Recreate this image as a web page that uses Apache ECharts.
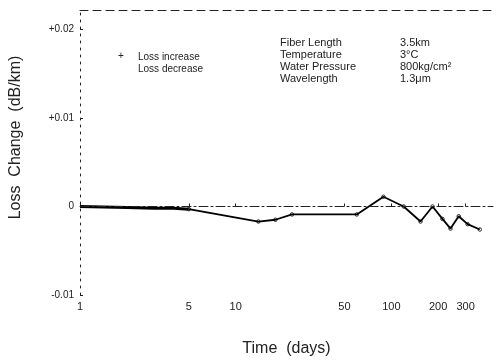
<!DOCTYPE html>
<html>
<head>
<meta charset="utf-8">
<script src="https://cdn.jsdelivr.net/npm/echarts@6/dist/echarts.min.js"></script>
<style>
  html, body { margin: 0; padding: 0; background: #fff; }
  #chart { width: 498px; height: 362px; }
</style>
</head>
<body>
<div id="chart"></div>
<script>
// early readings (drawn heavy in the original)
const earlyDays = [1, 2, 3, 4, 5]
const earlyLoss = [0, -0.0001, -0.0002, -0.0002, -0.0003]

// later readings
const laterDays = [5, 14, 18, 23, 60, 89, 120, 154, 184, 213, 240, 271, 309, 370]
const laterLoss = [-0.0003, -0.0017, -0.0015, -0.0009, -0.0009, 0.0011, 0, -0.0017, 0, -0.0014, -0.0025, -0.0011, -0.002, -0.0026]

const xTicks = [1, 5, 10, 50, 100, 200, 300]
const yTicks = [-0.01, 0, 0.01, 0.02]

const legendLines = ['Loss increase', 'Loss decrease']
const infoLabels = ['Fiber Length', 'Temperature', 'Water Pressure', 'Wavelength']
const infoValues = ['3.5km', '3\u00b0C', '800kg/cm\u00b2', '1.3\u03bcm']

const ink = '#222'
const font = '"Liberation Sans", Arial, sans-serif'

function pairs(xs, ys) {
    return xs.map(function (x, i) { return [x, ys[i]] })
}

function yLabel(v) {
    let hit = yTicks.find(function (t) { return Math.abs(t - v) < 1e-9 })
    if (hit === undefined) return ''
    if (hit === 0) return '0'
    return (hit > 0 ? '+' : '-') + Math.abs(hit).toFixed(2)
}

let chart = echarts.init(document.getElementById('chart'))

let textEls = []
// legend-like note
textEls.push({ type: 'text', left: 118, top: 51, style: { text: '+', fill: ink, font: '10px ' + font } })
legendLines.forEach(function (t, i) {
    textEls.push({ type: 'text', left: 138, top: 52 + i * 12, style: { text: t, fill: ink, font: '10px ' + font } })
})
infoLabels.forEach(function (t, i) {
    textEls.push({ type: 'text', left: 280, top: 37 + i * 12, style: { text: t, fill: ink, font: '11px ' + font } })
    textEls.push({ type: 'text', left: 400, top: 37 + i * 12, style: { text: infoValues[i], fill: ink, font: '11px ' + font } })
})

let option = {
    backgroundColor: '#fff',
    animation: false,
    grid: { left: 80, right: 5, top: 10, bottom: 66 },
    xAxis: [{
        type: 'log',
        logBase: 10,
        min: 1,
        max: 450,
        name: 'Time  (days)',
        nameLocation: 'middle',
        nameGap: 46,
        nameTextStyle: { color: ink, fontSize: 16, fontFamily: font },
        axisLine: { lineStyle: { color: ink, width: 1, type: [9, 3, 2, 3] } },
        axisTick: { inside: true, length: 3, lineStyle: { color: ink }, customValues: xTicks },
        axisLabel: { color: ink, fontSize: 11, fontFamily: font, margin: 6, customValues: xTicks },
        splitLine: { show: false },
        minorTick: { show: false }
    }, {
        type: 'log',
        logBase: 10,
        position: 'top',
        min: 1,
        max: 450,
        axisLine: { lineStyle: { color: ink, width: 1, type: [8, 5] } },
        axisTick: { show: false },
        axisLabel: { show: false },
        splitLine: { show: false }
    }],
    yAxis: {
        type: 'value',
        min: -0.01,
        max: 0.0222,
        interval: 0.01,
        name: 'Loss  Change  (dB/km)',
        nameLocation: 'middle',
        nameGap: 56,
        nameTextStyle: { color: ink, fontSize: 16, fontFamily: font, padding: [0, 0, 0, 30] },
        axisLine: { show: true, lineStyle: { color: ink, width: 1, type: [2, 5] } },
        axisTick: { show: true, inside: true, length: 3, lineStyle: { color: ink } },
        axisLabel: { color: ink, fontSize: 10, fontFamily: font, margin: 6, showMaxLabel: false, formatter: yLabel },
        splitLine: { show: false }
    },
    graphic: textEls,
    series: [{
        type: 'line',
        data: pairs(earlyDays, earlyLoss),
        symbol: 'none',
        clip: false,
        lineStyle: { color: '#000', width: 3 }
    }, {
        type: 'line',
        data: pairs(laterDays, laterLoss),
        symbol: 'none',
        clip: false,
        lineStyle: { color: '#000', width: 1.8 }
    }, {
        type: 'scatter',
        data: pairs(laterDays, laterLoss),
        symbol: 'circle',
        symbolSize: 3.5,
        itemStyle: { color: '#fff', borderColor: '#000', borderWidth: 1 },
        markLine: {
            silent: true,
            symbol: 'none',
            label: { show: false },
            lineStyle: { color: ink, width: 1, type: [9, 3, 2, 3] },
            data: [{ yAxis: 0 }]
        }
    }]
}

chart.setOption(option)
</script>
</body>
</html>
